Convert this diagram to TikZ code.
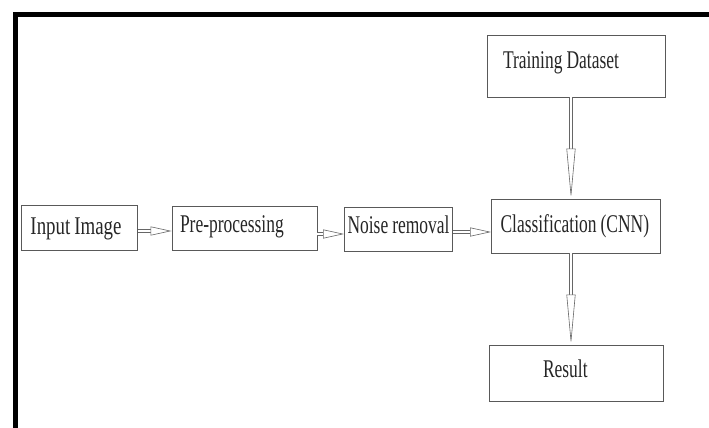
\documentclass[tikz,border=0pt]{standalone}
\usepackage{fontspec}
\setmainfont{Liberation Serif}
\newfontfamily\boxfont[FakeStretch=0.685]{Liberation Serif}
\newfontfamily\inputfont[FakeStretch=0.74]{Liberation Serif}
\usetikzlibrary{arrows.meta}

\begin{document}
\begin{tikzpicture}[x=1pt, y=-1pt,
	block/.style={draw=black!65, line width=0.8pt, inner ysep=0pt, text height=17pt, text depth=5pt, align=left, text=black!85, font=\boxfont\fontsize{25.5}{28}\selectfont, execute at begin node={\spaceskip=4pt plus 1pt\relax}},
	flow/.style={draw=black!60, double, double distance=2.6pt, line width=0.6pt, -{Triangle[open, fill=white, length=21pt, width=9pt]}},
	longflow/.style={flow, -{Triangle[open, fill=white, length=50pt, width=9pt]}}]
	\useasboundingbox (0,0) rectangle (709,428);
	% frame, cut off at the right and the bottom
	\draw[line width=4.5pt] (15.3,432) -- (15.3,14.5) -- (713,14.5);
	
	\node[block, minimum height=45pt, text width=98pt, inner xsep=9pt, text depth=3.5pt, font=\inputfont\fontsize{25.5}{28}\selectfont] (input) at (79.5,228) {\mbox{Input Image}};
	\node[block, minimum height=44pt, text width=129pt, inner xsep=8pt, text depth=7.5pt] (pre) at (244.5,228) {\mbox{Pre-processing}};
	\node[block, minimum height=44pt, minimum width=108pt, inner xsep=2pt, text depth=7.5pt] (noise) at (398.5,229) {Noise removal};
	\node[block, minimum height=54pt, text width=151pt, inner xsep=9pt, text depth=3.5pt] (cnn) at (576,226) {\mbox{Classification (CNN)}};
	\node[block, minimum height=62pt, text width=146pt, inner xsep=16pt, text depth=11pt] (train) at (576,66) {\mbox{Training Dataset}};
	\node[block, minimum height=56pt, text width=66pt, inner xsep=54pt, text depth=8.5pt] (result) at (576,373) {\mbox{Result}};
	
	\draw[flow] ([yshift=-3pt]input.east) -- ([yshift=-3pt]pre.west);
	\draw[flow] ([yshift=-6pt]pre.east) -- ([yshift=-5pt]noise.west);
	\draw[flow] ([yshift=-3pt]noise.east) -- ([yshift=-3pt]noise.east -| cnn.west);
	\draw[longflow] ([xshift=-5pt]train.south) -- ([xshift=-5pt]cnn.north);
	\draw[longflow] ([xshift=-5pt]cnn.south) -- ([xshift=-5pt]result.north);
\end{tikzpicture}
\end{document}
